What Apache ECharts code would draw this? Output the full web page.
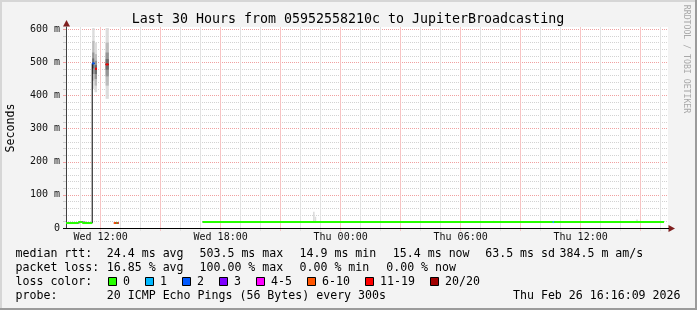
<!DOCTYPE html>
<html><head><meta charset="utf-8">
<script src="https://cdn.jsdelivr.net/npm/echarts@6/dist/echarts.min.js"></script>
<style>html,body{margin:0;padding:0;background:#f3f3f3;}#c{width:697px;height:310px;}</style>
</head><body><div id="c"></div>
<script>
// ---- time axis (hours since Wed 00:00) ----
const startHour = 10 + 16/60 + 9/3600;   // Wed 10:16:09
const minorGridHours = [11,13,14,16,17,19,20,22,23,25,26,28,29,31,32,34,35,37,38,40];
const majorGridHours = [12,15,18,21,24,27,30,33,36,39];
const labelHours = [12,18,24,30,36];
const tickLabels = ['Wed 12:00','Wed 18:00','Thu 00:00','Thu 06:00','Thu 12:00'];
// ---- value axis (ms) ----
const yMinorTicks = [20,40,60,80,120,140,160,180,220,240,260,280,320,340,360,380,420,440,460,480,520,540,560,580];
const yMajorTicks = [100,200,300,400,500,600];
const yLabelValues = [0,100,200,300,400,500,600];
const yTickLabels = ['0','100 m','200 m','300 m','400 m','500 m','600 m'];
// ---- loss legend ----
const lossLabels = ['0','1','2','3','4-5','6-10','11-19','20/20'];
const lossColors = ['#26ff00','#00b8ff','#0059ff','#7e00ff','#ff00ff','#ff5500','#ff0000','#a10000'];
// ---- median rtt segments: start hour, end hour, median (ms), loss class ----
const medStart = [10.269, 10.88, 11.08, 11.58, 11.72, 12.25, 12.66, 12.75, 12.80, 12.85, 17.10, 34.60, 34.68];
const medEnd   = [10.88, 11.08, 11.58, 11.70, 11.82, 12.40, 12.75, 12.80, 12.85, 12.90, 34.60, 34.68, 40.17];
const medValue = [15.0, 18.0, 15.0, 497, 481, 494, 15.0, 15.0, 15.0, 15.0, 18.0, 18.0, 18.0];
const medLoss  = [0, 0, 0, 2, 6, 6, 5, 6, 0, 6, 0, 1, 0];
// ---- smoke bands: start hour, end hour, low (ms), high (ms), shade ----
const smokeStart = [11.58,11.58,11.58,11.58, 11.70,11.70,11.70,11.70, 12.25,12.25,12.25,12.25, 22.62,22.70,31.62,38.78];
const smokeEnd   = [11.70,11.70,11.70,11.70, 11.82,11.82,11.82,11.82, 12.41,12.41,12.41,12.41, 22.70,22.78,31.68,38.86];
const smokeLow   = [420,445,465,482, 410,430,450,465, 390,430,458,478, 15,15,15,15];
const smokeHigh  = [604,565,530,512, 560,525,505,492, 604,560,530,510, 49,34,22,26];
const smokeShade = [0,1,2,3, 0,1,2,3, 0,1,2,3, 0,0,0,0];
const shades = ['#dcdcdc','#bcbcbc','#959595','#6c6c6c'];
// ---- legend texts ----
const statsRow1 = ['median rtt:','24.4 ms avg','503.5 ms max','14.9 ms min','15.4 ms now','63.5 ms sd','384.5 m am/s'];
const statsRow2 = ['packet loss:','16.85 % avg','100.00 % max','0.00 % min','0.00 % now'];
const probeRow = ['probe:','20 ICMP Echo Pings (56 Bytes) every 300s'];
const titleText = 'Last 30 Hours from 05952558210c to JupiterBroadcasting';
const yName = 'Seconds';
const watermark = 'RRDTOOL / TOBI OETIKER';
const stampText = 'Thu Feb 26 16:16:09 2026';

// layout
const FONT = 'DejaVu Sans Mono';
const row1X = [15.5,106.8,199.5,299.5,392.8,485.2,559.5];
const row2X = [15.5,106.8,199.5,299.5,386.2];
const boxX = [108.5,145.5,182.5,219.5,256.5,307.5,365.5,430.5];
const rowY = [254, 268, 282, 296];

const smokeRows = smokeStart.map((s,i)=>[s, smokeEnd[i], smokeLow[i], smokeHigh[i], smokeShade[i]]);
const medRows = medStart.map((s,i)=>[s, medEnd[i], medValue[i], medLoss[i]]);
const blackLine = [];
medStart.forEach((s,i)=>{
  if (i>0 && Math.abs(s - medEnd[i-1]) > 1e-6) blackLine.push([(s + medEnd[i-1])/2, null]);
  blackLine.push([s, medValue[i]]);
  blackLine.push([medEnd[i], medValue[i]]);
});

const X0 = startHour, X1 = startHour + 30.1;
const near = (arr, v) => arr.findIndex(a => Math.abs(a - v) < 1e-6);

const graphic = [
  {type:'rect', shape:{x:0,y:0,width:697,height:2}, style:{fill:'#d6d6d6'}, silent:true},
  {type:'rect', shape:{x:0,y:0,width:2,height:310}, style:{fill:'#d6d6d6'}, silent:true},
  {type:'rect', shape:{x:0,y:308,width:697,height:2}, style:{fill:'#9b9b9b'}, silent:true},
  {type:'rect', shape:{x:695,y:0,width:2,height:310}, style:{fill:'#9b9b9b'}, silent:true},
  {type:'text', x:348, y:20, style:{text:titleText, fontFamily:FONT, fontSize:13.3, fill:'#000', align:'center', verticalAlign:'middle'}},
  {type:'text', x:11, y:128, rotation:Math.PI/2, style:{text:yName, fontFamily:FONT, fontSize:11.6, fill:'#000', align:'center', verticalAlign:'middle'}},
  {type:'text', x:686.5, y:59, rotation:-Math.PI/2, style:{text:watermark, fontFamily:FONT, fontSize:8.2, fill:'#a8a8a8', align:'center', verticalAlign:'middle'}},
  {type:'polygon', shape:{points:[[66.5,20],[63,26.5],[70,26.5]]}, style:{fill:'#7f1f1f'}, z:10},
  {type:'polygon', shape:{points:[[675,228.5],[668.5,225],[668.5,232]]}, style:{fill:'#7f1f1f'}, z:10},
  {type:'rect', shape:{x:63,y:228,width:606,height:1}, style:{fill:'#000'}, z:10}
];
statsRow1.forEach((t,i)=>graphic.push({type:'text', x:row1X[i], y:rowY[0], style:{text:t, fontFamily:FONT, fontSize:11.6, fill:'#000', align:'left', verticalAlign:'middle'}}));
statsRow2.forEach((t,i)=>graphic.push({type:'text', x:row2X[i], y:rowY[1], style:{text:t, fontFamily:FONT, fontSize:11.6, fill:'#000', align:'left', verticalAlign:'middle'}}));
graphic.push({type:'text', x:15.5, y:rowY[2], style:{text:'loss color:', fontFamily:FONT, fontSize:11.6, fill:'#000', align:'left', verticalAlign:'middle'}});
lossLabels.forEach((t,i)=>{
  graphic.push({type:'rect', shape:{x:boxX[i], y:277.5, width:8, height:8}, style:{fill:lossColors[i], stroke:'#000', lineWidth:1}});
  graphic.push({type:'text', x:boxX[i]+14.5, y:rowY[2], style:{text:t, fontFamily:FONT, fontSize:11.6, fill:'#000', align:'left', verticalAlign:'middle'}});
});
graphic.push({type:'text', x:15.5, y:rowY[3], style:{text:probeRow[0], fontFamily:FONT, fontSize:11.6, fill:'#000', align:'left', verticalAlign:'middle'}});
graphic.push({type:'text', x:106.8, y:rowY[3], style:{text:probeRow[1], fontFamily:FONT, fontSize:11.6, fill:'#000', align:'left', verticalAlign:'middle'}});
graphic.push({type:'text', x:680.5, y:rowY[3], style:{text:stampText, fontFamily:FONT, fontSize:11.6, fill:'#000', align:'right', verticalAlign:'middle'}});

// vertical dotted grid lines, positioned through the x scale
const vGridSeries = (hours, color) => ({
  type:'custom', xAxisIndex:0, yAxisIndex:0, silent:true, z:3,
  data: hours.map(h => [h, 0]), encode:{x:0, y:1},
  renderItem:(params, api)=>{
    const top = api.coord([api.value(0), 607]);
    const bot = api.coord([api.value(0), 0]);
    const x = Math.floor(top[0]);
    return {type:'rect', shape:{x:x, y:top[1], width:1, height:bot[1] - top[1] + 3},
            style:{fill:color}};
  }
});

const option = {
  backgroundColor:'#f3f3f3',
  animation:false,
  grid:{left:66, top:27, width:602, height:201, show:true, backgroundColor:'#ffffff', borderWidth:0, outerBoundsMode:'none', containLabel:false},
  xAxis:[
    {type:'value', min:X0, max:X1, position:'bottom', axisLine:{show:false}, axisTick:{show:false}, splitLine:{show:false},
     axisLabel:{show:true, customValues:labelHours, formatter:v=>tickLabels[near(labelHours,v)] || '', fontFamily:FONT, fontSize:10, color:'#111', margin:4, lineHeight:10}}
  ],
  yAxis:[
    {type:'value', min:0, max:607, position:'left', axisLine:{show:false}, axisLabel:{show:false},
     axisTick:{show:true, customValues:yMinorTicks, length:3, lineStyle:{color:'#cccccc'}},
     splitLine:{show:true, lineStyle:{color:'#d2d2d2', type:'dotted', width:1}}},
    {type:'value', min:0, max:607, position:'left', axisLine:{show:true, lineStyle:{color:'#404040', width:1}},
     axisTick:{show:true, customValues:yMajorTicks, length:3, lineStyle:{color:'#f0a0a0'}},
     splitLine:{show:true, lineStyle:{color:'#f0a0a0', type:'dotted', width:1}},
     axisLabel:{show:true, customValues:yLabelValues, formatter:v=>yTickLabels[near(yLabelValues,v)] || '', fontFamily:FONT, fontSize:10, color:'#111', margin:6}}
  ],
  graphic: graphic,
  series:[
    vGridSeries(minorGridHours, '#e2e2e2'),
    vGridSeries(majorGridHours, '#f7c4c4'),
    {type:'custom', name:'smoke', xAxisIndex:0, yAxisIndex:0, data:smokeRows, encode:{x:[0,1], y:[2,3]}, z:4, silent:true,
     renderItem:(params, api)=>{
       const a = api.coord([api.value(0), api.value(3)]);
       const b = api.coord([api.value(1), api.value(2)]);
       return {type:'rect', shape:{x:a[0], y:a[1], width:b[0]-a[0], height:b[1]-a[1]}, style:{fill:shades[api.value(4)]}};
     }},
    {type:'line', name:'median', xAxisIndex:0, yAxisIndex:0, data:blackLine, symbol:'none', connectNulls:false, z:5, silent:true,
     lineStyle:{color:'#000', width:1}},
    {type:'custom', name:'loss', xAxisIndex:0, yAxisIndex:0, data:medRows, encode:{x:[0,1], y:2}, z:6, silent:true,
     renderItem:(params, api)=>{
       const a = api.coord([api.value(0), api.value(2)]);
       const b = api.coord([api.value(1), api.value(2)]);
       return {type:'rect', shape:{x:a[0], y:a[1]-1, width:b[0]-a[0], height:2}, style:{fill:lossColors[api.value(3)]}};
     }}
  ]
};
const chart = echarts.init(document.getElementById('c'), null, {renderer:'canvas', width:697, height:310});
chart.setOption(option);
</script>
</body></html>
